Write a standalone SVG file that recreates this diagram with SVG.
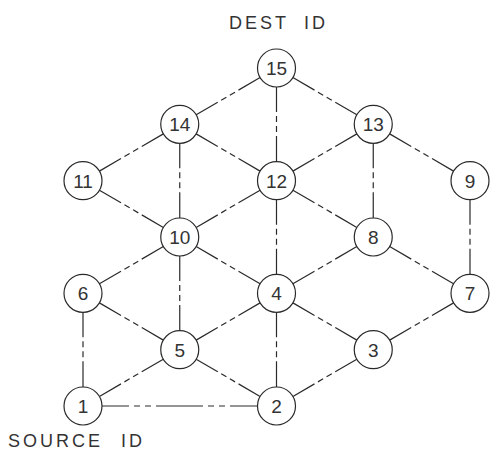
<svg xmlns="http://www.w3.org/2000/svg" width="501" height="459" viewBox="0 0 501 459">
  <style>
    .edge { fill: none; stroke: #2a2a2a; stroke-width: 1.2; stroke-dasharray: 25 4 6 4 6 4 80; }
    .edge.long { stroke-dasharray: 27 5 6 5 6 5 47 5 6 5 6 5 80; }
    .node circle { fill: #ffffff; stroke: #2a2a2a; stroke-width: 1.2; }
    .node text { font-family: "Liberation Sans", Arial, sans-serif; font-size: 19px; fill: #333333; text-anchor: middle; }
    .label { font-family: "Liberation Sans", Arial, sans-serif; font-size: 18px; fill: #333333; letter-spacing: 3px; }
  </style>

  <rect width="501" height="459" fill="#ffffff"/>

  <!-- Connectors: each runs from one circle rim to the other -->
  <g id="connectors">
    <!-- 15 -->
    <line class="edge" x1="260.08" y1="77.56" x2="196.17" y2="114.77"/>
    <line class="edge" x1="276.5" y1="87" x2="276.5" y2="161.67"/>
    <line class="edge" x1="292.92" y1="77.56" x2="356.83" y2="114.77"/>
    <!-- 14 -->
    <line class="edge" x1="163.33" y1="133.89" x2="99.42" y2="171.11"/>
    <line class="edge" x1="196.17" y1="133.89" x2="260.08" y2="171.11"/>
    <line class="edge" x1="179.75" y1="143.33" x2="179.75" y2="218"/>
    <!-- 13 -->
    <line class="edge" x1="356.83" y1="133.89" x2="292.92" y2="171.11"/>
    <line class="edge" x1="373.25" y1="143.33" x2="373.25" y2="218"/>
    <line class="edge" x1="389.67" y1="133.89" x2="453.58" y2="171.11"/>
    <!-- 11 -->
    <line class="edge" x1="99.42" y1="190.23" x2="163.33" y2="227.44"/>
    <!-- 12 -->
    <line class="edge" x1="260.08" y1="190.23" x2="196.17" y2="227.44"/>
    <line class="edge" x1="276.5" y1="199.67" x2="276.5" y2="274.33"/>
    <line class="edge" x1="292.92" y1="190.23" x2="356.83" y2="227.44"/>
    <!-- 9 -->
    <line class="edge" x1="470" y1="199.67" x2="470" y2="274.33"/>
    <!-- 10 -->
    <line class="edge" x1="163.33" y1="246.56" x2="99.42" y2="283.77"/>
    <line class="edge" x1="179.75" y1="256" x2="179.75" y2="330.67"/>
    <line class="edge" x1="196.17" y1="246.56" x2="260.08" y2="283.77"/>
    <!-- 8 -->
    <line class="edge" x1="356.83" y1="246.56" x2="292.92" y2="283.77"/>
    <line class="edge" x1="389.67" y1="246.56" x2="453.58" y2="283.77"/>
    <!-- 6 -->
    <line class="edge" x1="99.42" y1="302.89" x2="163.33" y2="340.11"/>
    <line class="edge" x1="83" y1="312.33" x2="83" y2="387"/>
    <!-- 4 -->
    <line class="edge" x1="260.08" y1="302.89" x2="196.17" y2="340.11"/>
    <line class="edge" x1="276.5" y1="312.33" x2="276.5" y2="387"/>
    <line class="edge" x1="292.92" y1="302.89" x2="356.83" y2="340.11"/>
    <!-- 7 -->
    <line class="edge" x1="453.58" y1="302.89" x2="389.67" y2="340.11"/>
    <!-- 5 -->
    <line class="edge" x1="163.33" y1="359.23" x2="99.42" y2="396.44"/>
    <line class="edge" x1="196.17" y1="359.23" x2="260.08" y2="396.44"/>
    <!-- 3 -->
    <line class="edge" x1="356.83" y1="359.23" x2="292.92" y2="396.44"/>
    <!-- 1 -->
    <line class="edge long" x1="102" y1="406" x2="257.5" y2="406"/>
  </g>

  <!-- Nodes -->
  <g id="node-15" class="node"><circle cx="276.5" cy="68" r="19"/><text x="276.5" y="74.8">15</text></g>
  <g id="node-14" class="node"><circle cx="179.75" cy="124.33" r="19"/><text x="179.75" y="131.1">14</text></g>
  <g id="node-13" class="node"><circle cx="373.25" cy="124.33" r="19"/><text x="373.25" y="131.1">13</text></g>
  <g id="node-11" class="node"><circle cx="83" cy="180.67" r="19"/><text x="83" y="187.5">11</text></g>
  <g id="node-12" class="node"><circle cx="276.5" cy="180.67" r="19"/><text x="276.5" y="187.5">12</text></g>
  <g id="node-9" class="node"><circle cx="470" cy="180.67" r="19"/><text x="470" y="187.5">9</text></g>
  <g id="node-10" class="node"><circle cx="179.75" cy="237" r="19"/><text x="179.75" y="243.8">10</text></g>
  <g id="node-8" class="node"><circle cx="373.25" cy="237" r="19"/><text x="373.25" y="243.8">8</text></g>
  <g id="node-6" class="node"><circle cx="83" cy="293.33" r="19"/><text x="83" y="300.1">6</text></g>
  <g id="node-4" class="node"><circle cx="276.5" cy="293.33" r="19"/><text x="276.5" y="300.1">4</text></g>
  <g id="node-7" class="node"><circle cx="470" cy="293.33" r="19"/><text x="470" y="300.1">7</text></g>
  <g id="node-5" class="node"><circle cx="179.75" cy="349.67" r="19"/><text x="179.75" y="356.5">5</text></g>
  <g id="node-3" class="node"><circle cx="373.25" cy="349.67" r="19"/><text x="373.25" y="356.5">3</text></g>
  <g id="node-1" class="node"><circle cx="83" cy="406" r="19"/><text x="83" y="412.8">1</text></g>
  <g id="node-2" class="node"><circle cx="276.5" cy="406" r="19"/><text x="276.5" y="412.8">2</text></g>

  <!-- Labels -->
  <text id="dest-label" class="label" x="229" y="29">DEST <tspan x="304">ID</tspan></text>
  <text id="source-label" class="label" x="8" y="447">SOURCE <tspan x="121">ID</tspan></text>
</svg>
